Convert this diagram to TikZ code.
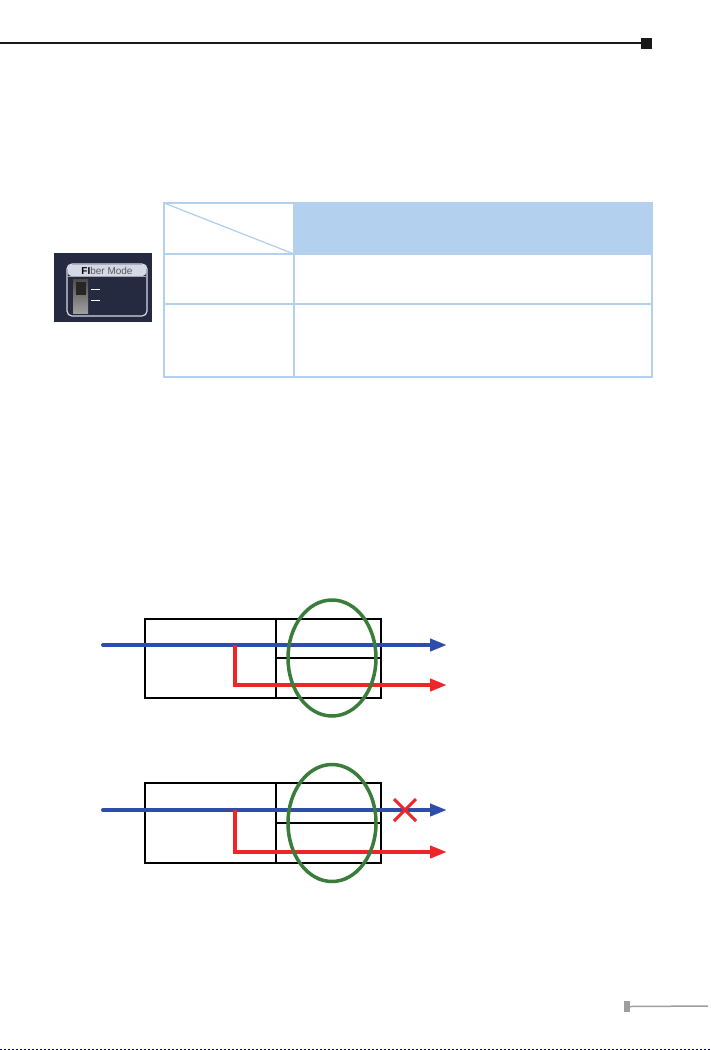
\documentclass[tikz,border=0pt]{standalone}
\usepackage{fontspec}
\setsansfont{Liberation Sans}
\usetikzlibrary{arrows.meta,shapes.geometric}
\definecolor{tblue}{RGB}{179,208,238}
\definecolor{lblue}{RGB}{46,77,168}
\definecolor{lred}{RGB}{238,38,42}
\definecolor{lgreen}{RGB}{58,125,58}
\definecolor{navy}{RGB}{38,42,64}
\definecolor{lav}{RGB}{213,216,229}
\tikzset{
  tbl/.style={draw=tblue,line width=2pt},
  frame/.style={draw=black,line width=1.1pt},
  bluepath/.style={draw=lblue,line width=4pt,line cap=round,-{Triangle[length=17pt,width=12pt]}},
  redpath/.style={draw=lred,line width=4pt,-{Triangle[length=17pt,width=12pt]}},
  ring/.style={draw=lgreen,line width=3.5pt,ellipse,inner sep=0pt},
}
\begin{document}
\begin{tikzpicture}[x=1pt,y=-1pt]
\useasboundingbox (0,0) rectangle (710,1050);
% header rule
\coordinate (hl) at (0,43);
\node[fill=black!90,minimum size=11pt,inner sep=0pt] (hsq) at (646.5,43) {};
\draw[line width=1.5pt,black!90] (hl) -- (hsq.west);
% table
\fill[tblue] (294,203) rectangle (652,254);
\draw[tbl] (164,203) rectangle (652,377);
\draw[tbl] (294,203) -- (294,377);
\draw[tbl] (164,254) -- (652,254);
\draw[tbl] (164,304) -- (652,304);
\draw[draw=tblue,line width=1.3pt] (164,203) -- (294,254);
% icon
\fill[navy] (54,253) rectangle (152,322);
\draw[lav,line width=1.2pt,rounded corners=5pt] (67,264) rectangle (147,316);
\fill[lav,rounded corners=4pt] (67.6,264.6) rectangle (146.4,276);
\draw[gray!70,line width=0.8pt] (67,276) -- (147,276);
\node[font=\sffamily\fontsize{10}{10}\selectfont,text=black!65,inner sep=0pt] (fm) at (107,270.5) {{\bfseries\color{black}FI}ber Mode};
\shade[top color=gray!60!black,bottom color=gray!75] (73,279) rectangle (88,313);
\fill[black!85] (75.5,281.5) rectangle (86,295);
\draw[white,line width=0.9pt] (91,289.5) -- (100,289.5);
\draw[white,line width=1.8pt] (91,300.5) -- (100,300.5);
% diagram 1
\node[frame,minimum width=131pt,minimum height=79pt,inner sep=0pt] (a1) at (210.5,658.5) {};
\node[frame,minimum width=105pt,minimum height=39pt,inner sep=0pt] (a2) at (328.5,638.5) {};
\node[frame,minimum width=105pt,minimum height=40pt,inner sep=0pt] (a3) at (328.5,678) {};
\coordinate (b1s) at (103,645);
\coordinate (b1e) at (447,645);
\coordinate (r1s) at (235,645);
\coordinate (r1c) at (235,685);
\coordinate (r1e) at (447,685);
\draw[bluepath] (b1s) -- (b1e);
\draw[redpath] (r1s) -- (r1c) -- (r1e);
\node[ring,minimum width=88pt,minimum height=116pt] (e1) at (332,658) {};
% diagram 2
\node[frame,minimum width=131pt,minimum height=80pt,inner sep=0pt] (c1) at (210.5,823) {};
\node[frame,minimum width=105pt,minimum height=40pt,inner sep=0pt] (c2) at (328.5,803) {};
\node[frame,minimum width=105pt,minimum height=40pt,inner sep=0pt] (c3) at (328.5,843) {};
\coordinate (b2s) at (103,810);
\coordinate (b2e) at (447,810);
\coordinate (r2s) at (235,810);
\coordinate (r2c) at (235,852);
\coordinate (r2e) at (447,852);
\draw[bluepath] (b2s) -- (b2e);
\draw[redpath] (r2s) -- (r2c) -- (r2e);
\node[ring,minimum width=88pt,minimum height=117pt] (e2) at (332,823) {};
\coordinate (x1) at (394,799);
\coordinate (x2) at (416,821);
\coordinate (x3) at (394,821);
\coordinate (x4) at (416,799);
\draw[lred,line width=3pt] (x1) -- (x2) (x3) -- (x4);
% footer
\node[fill=gray!75,minimum width=6pt,minimum height=11pt,inner sep=0pt] (fsq) at (627,1006.5) {};
\coordinate (fe) at (708,1006);
\draw[gray!75,line width=1.5pt] (fsq.east) -- (fe);
\coordinate (dl) at (0,1049);
\coordinate (dr) at (710,1049);
\draw[blue!60!black,line width=1pt,dash pattern=on 2pt off 2pt] (dl) -- (dr);
\end{tikzpicture}
\end{document}
